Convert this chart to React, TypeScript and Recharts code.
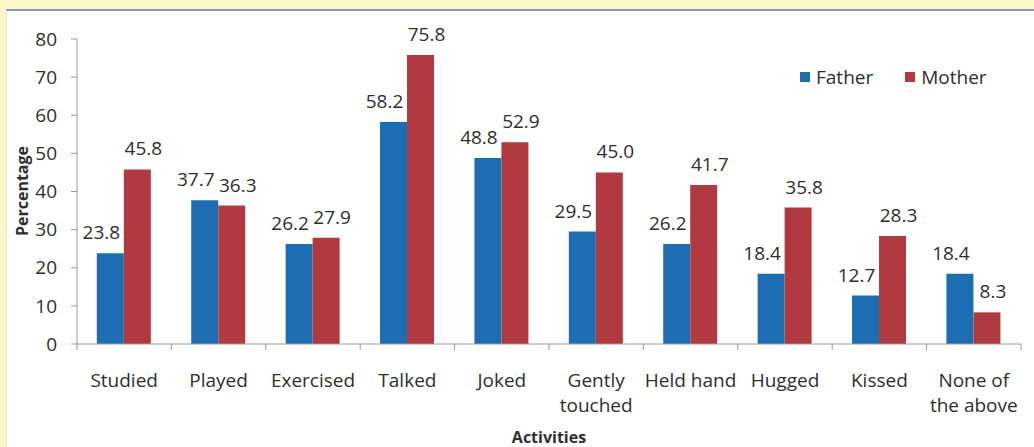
import React from "react";
import { BarChart, Bar, XAxis, YAxis, Legend, LabelList } from "recharts";

// activities and percentages
const categories = [
  "Studied",
  "Played",
  "Exercised",
  "Talked",
  "Joked",
  "Gently\ntouched",
  "Held hand",
  "Hugged",
  "Kissed",
  "None of\nthe above",
];
const father = [23.8, 37.7, 26.2, 58.2, 48.8, 29.5, 26.2, 18.4, 12.7, 18.4];
const mother = [45.8, 36.3, 27.9, 75.8, 52.9, 45.0, 41.7, 35.8, 28.3, 8.3];
const yTicks = [0, 10, 20, 30, 40, 50, 60, 70, 80];

const BLUE = "#1c6db2";
const RED = "#b13a40";
const FONT = "'Open Sans', sans-serif";
const TEXT = "#2e2e2e";

const data = categories.map((name, i) => ({
  name,
  Father: father[i],
  Mother: mother[i],
}));

const fmt = (v: any) => Number(v).toFixed(1);

const XTick = (props: any) => {
  const { x, y, payload, index } = props;
  const half = payload?.offset || 47.2;
  const lines = String(payload.value).split("\n");
  return (
    <g>
      <line x1={x - half} x2={x - half} y1={y} y2={y + 6} stroke="#9a9a9a" />
      {index === categories.length - 1 && (
        <line x1={x + half} x2={x + half} y1={y} y2={y + 6} stroke="#9a9a9a" />
      )}
      <text x={x} y={y + 43} textAnchor="middle" fill={TEXT} fontSize={19} fontFamily={FONT}>
        {lines.map((l, i) => (
          <tspan key={i} x={x} dy={i === 0 ? 0 : 25}>
            {l}
          </tspan>
        ))}
      </text>
    </g>
  );
};

const LegendBox = () => (
  <div style={{ display: "flex", alignItems: "center", fontFamily: FONT, fontSize: 19, color: TEXT }}>
    <span style={{ width: 10, height: 10, background: BLUE, marginRight: 6 }} />
    <span style={{ marginRight: 32 }}>Father</span>
    <span style={{ width: 10, height: 10, background: RED, marginRight: 6 }} />
    <span>Mother</span>
  </div>
);

export default function App() {
  return (
    <div
      style={{
        position: "absolute",
        left: 0,
        top: 0,
        width: 1034,
        height: 447,
        background: "#fbf8c8",
        overflow: "hidden",
      }}
    >
      <div
        style={{
          position: "absolute",
          left: 6,
          top: 9,
          width: 1028,
          height: 438,
          background: "#fff",
          borderTop: "2px solid #8d9ca3",
          borderLeft: "1px solid #e4e4dc",
          boxSizing: "border-box",
        }}
      />
      <div style={{ position: "absolute", left: 0, top: 0 }}>
        <BarChart
          width={1034}
          height={447}
          data={data}
          margin={{ top: 39, right: 13, bottom: 0, left: 0 }}
          barCategoryGap="21%"
          barGap={0}
        >
          <XAxis
            dataKey="name"
            height={103}
            interval={0}
            tickSize={0}
            tickMargin={0}
            tickLine={false}
            axisLine={{ stroke: "#9a9a9a" }}
            tick={<XTick />}
            label={{
              content: () => (
                <text x={549} y={443} textAnchor="middle" fill={TEXT} fontSize={16} fontWeight="bold" fontFamily={FONT}>
                  Activities
                </text>
              ),
            }}
          />
          <YAxis
            width={77}
            domain={[0, 80]}
            ticks={yTicks}
            interval={0}
            tickSize={6}
            tickMargin={14}
            axisLine={{ stroke: "#9a9a9a" }}
            tickLine={{ stroke: "#9a9a9a" }}
            tick={{ fill: TEXT, fontSize: 19, fontFamily: FONT }}
            label={{
              content: () => (
                <text
                  x={22}
                  y={191}
                  transform="rotate(-90 22 191)"
                  textAnchor="middle"
                  dominantBaseline="central"
                  fill={TEXT}
                  fontSize={16}
                  fontWeight="bold"
                  fontFamily={FONT}
                >
                  Percentage
                </text>
              ),
            }}
          />
          <Legend
            layout="horizontal"
            verticalAlign="middle"
            align="center"
            content={<LegendBox />}
            wrapperStyle={{ top: 64, left: 800, width: 230 }}
          />
          <Bar dataKey="Father" fill={BLUE} isAnimationActive={false}>
            <LabelList dataKey="Father" position="top" offset={14} dx={-9} fill={TEXT} fontSize={19} fontFamily={FONT} formatter={fmt} />
          </Bar>
          <Bar dataKey="Mother" fill={RED} isAnimationActive={false}>
            <LabelList dataKey="Mother" position="top" offset={14} dx={6} fill={TEXT} fontSize={19} fontFamily={FONT} formatter={fmt} />
          </Bar>
        </BarChart>
      </div>
    </div>
  );
}
